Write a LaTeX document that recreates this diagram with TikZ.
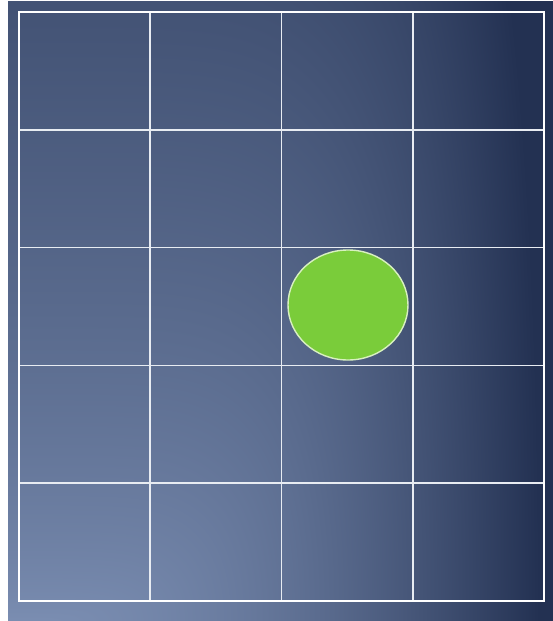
\documentclass[tikz,border=0pt]{standalone}
\usetikzlibrary{shapes.geometric}
\definecolor{ballgreen}{HTML}{7ACC3A}
\definecolor{ballrim}{HTML}{D8F0C0}
\definecolor{gridline}{HTML}{E8ECF2}
\pgfdeclarefunctionalshading{panelshade}{\pgfpoint{0bp}{0bp}}{\pgfpoint{543.96bp}{618.68bp}}{}{
621 div 1.00375 mul 0.73 exp 0.64 mul 3 exp
exch 1.00375 mul 7 add 553 div 1.9 exp 1.05 mul 3 exp add
0.3333 exp dup 1 gt {pop 1} if
dup -88 mul 123 add 255 div
exch dup -93 mul 142 add 255 div
exch -96 mul 178 add 255 div
}
\tikzset{
  outerframe/.style={draw=white, line width=2.6pt},
  gridrule/.style={draw=gridline, line width=1.6pt},
  ball/.style={ellipse, fill=ballgreen, draw=ballrim, line width=1.4pt, minimum width=120pt, minimum height=110pt, inner sep=0pt}
}
\begin{document}
\begin{tikzpicture}[x=1pt,y=-1pt]
\useasboundingbox (0,0) rectangle (553,621);
\fill[white] (0,0) rectangle (553,621);
\node[inner sep=0pt, outer sep=0pt, anchor=south west] (bg) at (7,621) {\pgfuseshading{panelshade}};
\foreach \x in {150.25,281.5,412.75} \draw[gridrule] (\x,12) -- (\x,601);
\foreach \y in {129.8,247.6,365.4,483.2} \draw[gridrule] (19,\y) -- (544,\y);
\draw[outerframe] (19,12) rectangle (544,601);
\node[ball] (dot) at (348,305) {};
\end{tikzpicture}
\end{document}
